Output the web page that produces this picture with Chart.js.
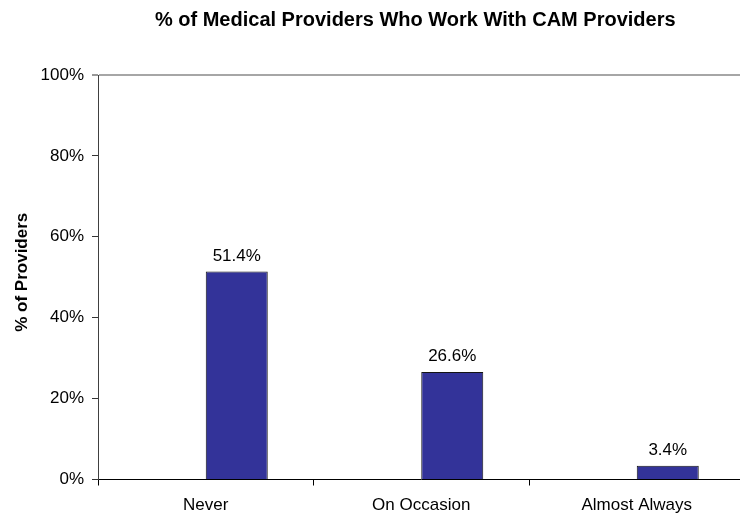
<!DOCTYPE html>
<html>
<head>
<meta charset="utf-8">
<script src="https://cdn.jsdelivr.net/npm/chart.js@4/dist/chart.umd.min.js"></script>
<style>
  html, body { margin: 0; padding: 0; background: #fff; overflow: hidden; }
  #wrap { width: 740px; height: 516px; overflow: hidden; }
  canvas { display: block; }
</style>
</head>
<body>
<div id="wrap"><canvas id="c" width="746" height="516"></canvas></div>
<script>
const chartTitle = "% of Medical Providers Who Work With CAM Providers";
const yAxisTitle = "% of Providers";
const categories = ["Never", "On Occasion", "Almost Always"];
const providerPercent = [51.4, 26.6, 3.4];
const spacerSeries = [null, null, null];
const yTickValues = [0, 20, 40, 60, 80, 100];

const FONT = "'Liberation Sans', Arial, sans-serif";

const labelPlugin = {
  id: 'barLabels',
  afterDatasetsDraw(chart) {
    const ctx = chart.ctx;
    const meta = chart.getDatasetMeta(1);
    ctx.save();
    ctx.font = "17px " + FONT;
    ctx.fillStyle = '#000';
    ctx.textAlign = 'center';
    ctx.textBaseline = 'alphabetic';
    meta.data.forEach((bar, i) => {
      const v = providerPercent[i];
      ctx.fillText(v.toFixed(1) + '%', bar.x, bar.y - 11);
    });
    ctx.restore();
  }
};

const titlePlugin = {
  id: 'customTitle',
  afterDraw(chart) {
    const ctx = chart.ctx;
    const a = chart.chartArea;
    ctx.save();
    ctx.font = "bold 20px " + FONT;
    ctx.fillStyle = '#000';
    ctx.textAlign = 'center';
    ctx.textBaseline = 'alphabetic';
    ctx.fillText(chartTitle, (a.left + a.right) / 2 - 6, 26);
    // rotated y-axis title
    ctx.font = "bold 17px " + FONT;
    ctx.translate(27, (a.top + a.bottom) / 2 - 5);
    ctx.rotate(-Math.PI / 2);
    ctx.fillText(yAxisTitle, 0, 0);
    ctx.restore();
  }
};

new Chart(document.getElementById('c'), {
  type: 'bar',
  data: {
    labels: categories,
    datasets: [
      { label: 'spacer', data: spacerSeries, backgroundColor: 'rgba(0,0,0,0)' },
      {
        label: '% of Providers',
        data: providerPercent,
        backgroundColor: '#333399',
        borderColor: '#141414',
        borderWidth: 1,
        borderSkipped: 'bottom'
      }
    ]
  },
  options: {
    responsive: false,
    animation: false,
    events: [],
    layout: { padding: { top: 75, right: 1.5, left: 0, bottom: 0 } },
    datasets: { bar: { categoryPercentage: 124 / 215.5, barPercentage: 1 } },
    plugins: {
      legend: { display: false },
      title: { display: false },
      tooltip: { enabled: false }
    },
    scales: {
      x: {
        offset: true,
        grid: {
          display: true,
          drawOnChartArea: false,
          drawTicks: true,
          tickLength: 6,
          tickColor: '#000',
          tickWidth: 1,
          offset: true
        },
        border: { display: true, color: '#000', width: 1 },
        ticks: {
          color: '#000',
          font: { family: FONT, size: 17 },
          padding: 10,
          maxRotation: 0,
          autoSkip: false
        },
        afterFit(scale) { scale.height = 36.5; }
      },
      y: {
        min: 0,
        max: 100,
        afterBuildTicks(scale) { scale.ticks = yTickValues.map(v => ({ value: v })); },
        grid: {
          color: (c) => (c.tick && c.tick.value === 100) ? '#a6a6a6' : 'rgba(0,0,0,0)',
          lineWidth: (c) => (c.tick && c.tick.value === 100) ? 2 : 1,
          drawTicks: true,
          tickLength: 6,
          tickColor: '#333',
          tickWidth: 1
        },
        border: { display: true, color: '#404040', width: 1 },
        ticks: {
          color: '#000',
          font: { family: FONT, size: 17 },
          padding: 8,
          callback: (v) => v + '%'
        },
        title: { display: false },
        afterFit(scale) { scale.width = 98; }
      }
    }
  },
  plugins: [labelPlugin, titlePlugin]
});
</script>
</body>
</html>
